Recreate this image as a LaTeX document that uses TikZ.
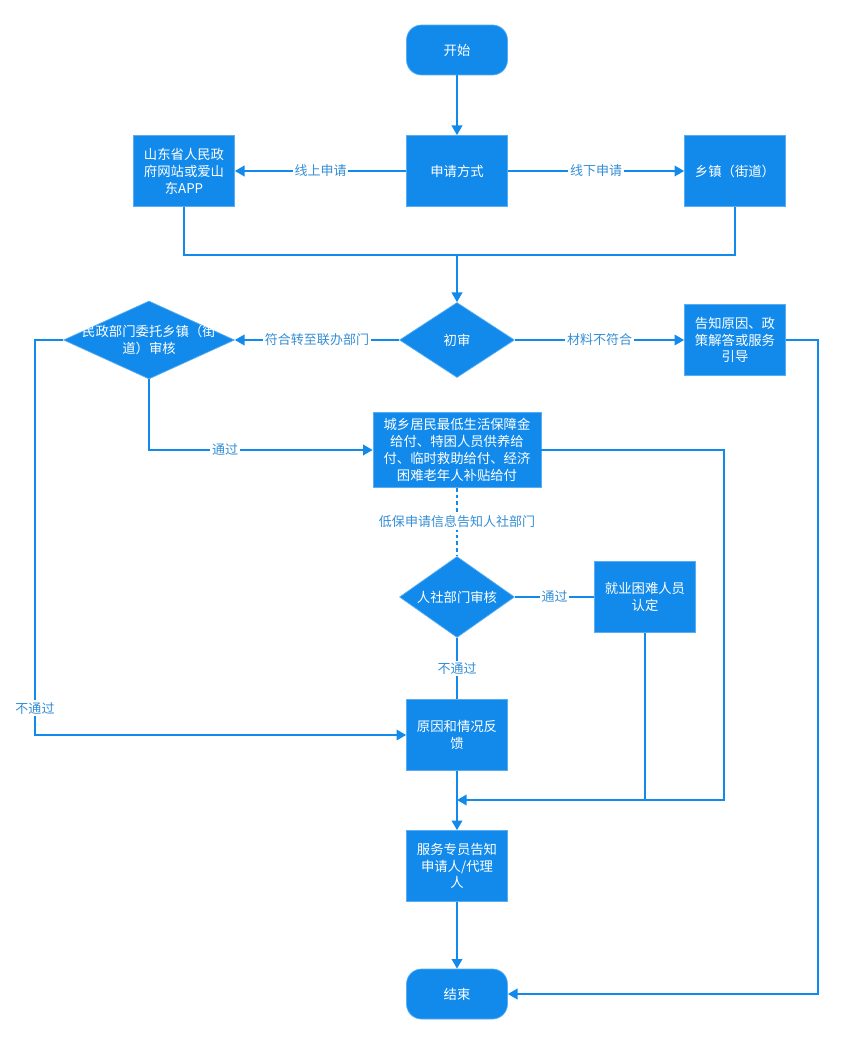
\documentclass[tikz,border=0pt]{standalone}
\usepackage{fontspec}
\setmainfont{Noto Sans CJK SC}
\usetikzlibrary{shapes.geometric,arrows.meta}
\definecolor{flowblue}{RGB}{18,138,236}
\definecolor{labelblue}{RGB}{52,142,214}
\begin{document}
\begin{tikzpicture}[x=0.02cm,y=-0.02cm,
	box/.style={ rectangle, fill=flowblue, draw=flowblue!70!white, thin, text=white, align=center, inner sep=1pt, minimum width=2.02cm, minimum height=1.42cm, font=\fontsize{7.6}{9.6}\selectfont },
	term/.style={ box, minimum height=1cm, rounded corners=0.3cm },
	decide/.style={ diamond, fill=flowblue, draw=flowblue!70!white, thin, inner sep=0pt, minimum width=2.3cm, minimum height=1.5cm },
	dtext/.style={ text=white, align=center, font=\fontsize{7.6}{9.6}\selectfont },
	flow/.style={ draw=flowblue, line width=1.1pt },
	arr/.style={ flow, -{Triangle[length=5.5pt,width=6pt]} },
	lab/.style={ fill=white, text=labelblue, inner sep=1pt, font=\fontsize{7.4}{9}\selectfont }
]
\useasboundingbox (0,0) rectangle (841,1044);

% start and way of applying
\node at (457,50) (start) [term] {开始};
\node at (457,171) (fangshi) [box] {申请方式};
\node at (184,171) (shandong) [box] {山东省人民政\\府网站或爱山\\东APP};
\node at (735,171) (xiangzhen) [box] {乡镇（街道）};
\draw[arr] (start) to (fangshi);
\draw[arr] (fangshi) to node[lab] {线上申请} (shandong);
\draw[arr] (fangshi) to node[lab] {线下申请} (xiangzhen);

% both ways meet before the first check
\coordinate (merge) at (457,255);
\draw[flow] (shandong.south) |- (merge) -| (xiangzhen.south);

% first check
\node at (457,340) (chushen) [decide,label={[dtext]center:初审}] {};
\node at (149,340) (minzheng) [decide,minimum width=3.42cm,minimum height=1.56cm,label={[dtext]center:民政部门委托乡镇（街\\道）审核}] {};
\node at (735,340) (gaozhi) [box] {告知原因、政\\策解答或服务\\引导};
\draw[arr] (merge) to (chushen);
\draw[arr] (chushen) to node[lab] {符合转至联办部门} (minzheng);
\draw[arr] (chushen) to node[lab] {材料不符合} (gaozhi);

% payment and labour check
\node at (457,450) (chengxiang) [box,minimum width=3.36cm,minimum height=1.5cm] {城乡居民最低生活保障金\\给付、特困人员供养给\\付、临时救助给付、经济\\困难老年人补贴给付};
\node at (457,597) (renshe) [decide,minimum height=1.62cm,label={[dtext]center:人社部门审核}] {};
\node at (645,597) (jiuye) [box] {就业困难人员\\认定};
\draw[arr] (minzheng.south) |- node[lab,pos=0.67] {通过} (chengxiang.west);
\draw[flow,dash pattern=on 2.2pt off 1.6pt] (chengxiang.south) to node[lab] {低保申请信息告知人社部门} (renshe.north);
\draw[flow] (renshe.east) to node[lab] {通过} (jiuye.west);

% feedback, notice and end
\node at (457,735) (yuanyin) [box] {原因和情况反\\馈};
\node at (457,866) (fuwu) [box] {服务专员告知\\申请人/代理\\人};
\node at (457,994) (jieshu) [term] {结束};
\coordinate (join) at (457,800);
\coordinate (mzleft) at (35,340);
\coordinate (cxright) at (724,450);
\coordinate (gzright) at (818,340);
\draw[flow] (renshe.south) to node[lab] {不通过} (yuanyin.north);
\draw[arr] (minzheng.west) -- (mzleft) |- node[lab,pos=0.466] {不通过} (yuanyin.west);
\draw[arr] (chengxiang.east) -- (cxright) |- (join);
\draw[flow] (jiuye.south) -- (jiuye.south |- join);
\draw[arr] (yuanyin) to (fuwu);
\draw[arr] (fuwu) to (jieshu);
\draw[arr] (gaozhi.east) -- (gzright) |- (jieshu.east);

\end{tikzpicture}
\end{document}
